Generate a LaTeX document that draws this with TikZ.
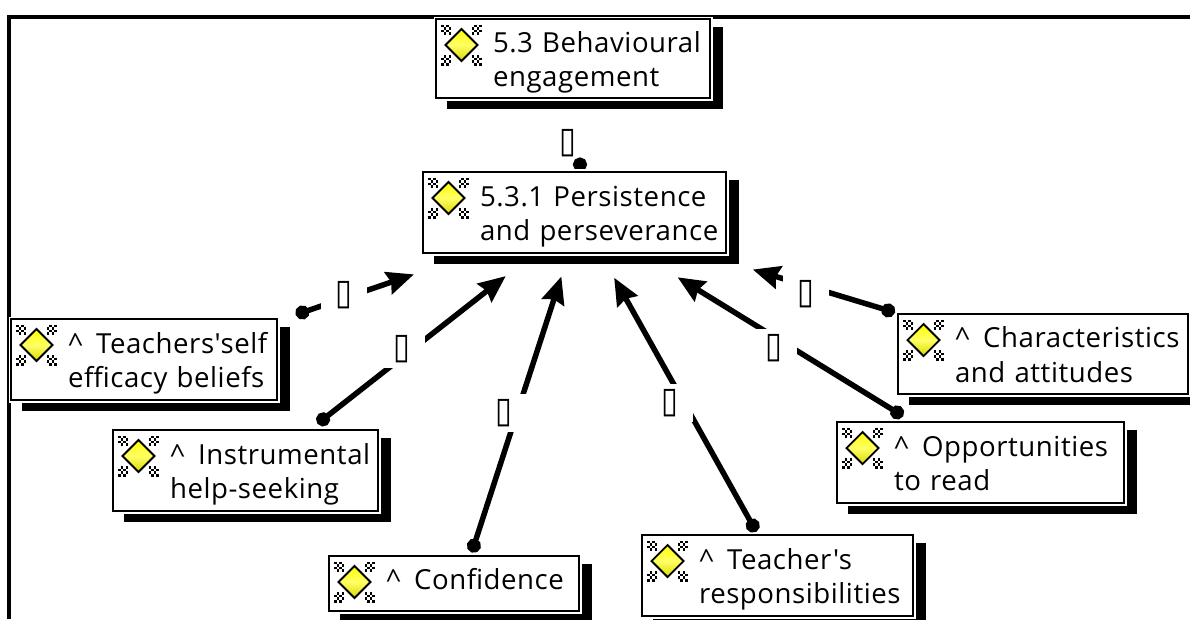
\documentclass[tikz,border=0pt]{standalone}
\usepackage{graphicx}
\usepackage{fontspec}
\setmainfont{Open Sans}[LetterSpace=2,Ligatures=TeXOff]
\newfontfamily\symfont{DejaVu Sans}
\usetikzlibrary{arrows.meta}
\tikzset{
  x=1pt,y=-1pt,
  boxnode/.style={draw=black,line width=2pt,fill=white,outer sep=0pt,inner sep=0pt,align=left,
    font=\fontsize{27.6}{34.5}\selectfont},
  conn/.style={line width=5.5pt,{Circle[length=14pt]}-{Stealth[length=27pt,width=23pt,inset=3pt]}},
  dotconn/.style={line width=5.5pt,{Circle[length=14pt]}-},
  tag/.style={fill=white,inner sep=0pt,minimum width=46pt,minimum height=38pt,font=\symfont\fontsize{36}{36}\selectfont},
}
\newcommand{\ind}{\hspace*{57pt}}
\newcommand{\car}{\^{}\ \hspace{4pt}}
\newcommand{\topst}[1]{\rule{0pt}{#1pt}}
\newcommand{\botst}[1]{\rule[-#1pt]{0pt}{#1pt}}
\newcommand{\tofu}{\scalebox{0.85}[1]{▯}}
% name, x1, y1, x2, y2, text
\newcommand{\cbox}[6]{%
  \fill[black] (#2+11,#3+8) rectangle (#4+13,#5+11);
  \fill[white] (#2-2,#3-2) rectangle (#4+3,#5+3);
  \node[boxnode,minimum width=#4-#2,minimum height=#5-#3,text width=#4-#2] (#1) at ({(#2+#4)/2},{(#3+#5)/2}) {#6};
  \begin{scope}[shift={(#2+25.5,#3+26)}]
    \foreach \a/\b in {-1/-1,1/-1,-1/1,1/1}{
      \begin{scope}[shift={(\a*14,\b*14)}]
        \foreach \i/\j in {-1/-1,1/-1,0/0,-1/1,1/1,\a*2/0,0/\b*2,\a*1/\b*1,\a*2/\b*2}{
          \fill[black] (\i*2.6-1.3,\j*2.6-1.3) rectangle ++(2.6,2.6);
        }
      \end{scope}
    }
    \shade[top color=yellow,bottom color=yellow!85!black,middle color=white!40!yellow,draw=black,line width=1.8pt]
      (0,-16) -- (16,0) -- (0,16) -- (-16,0) -- cycle;
  \end{scope}
}
\begin{document}
\begin{tikzpicture}
\useasboundingbox (0,0) rectangle (1190,619);
\clip (0,0) rectangle (1190,619);
\fill[white] (0,0) rectangle (1190,619);
\coordinate (frameTL) at (9,16.5);
\coordinate (frameTR) at (1190,16.5);
\coordinate (frameBL) at (9,619);
\draw[line width=4pt] (frameBL) -- (frameTL) -- (frameTR);

\cbox{beh}{436}{19}{710}{98}{\ind\topst{28.5}5.3 Behavioural\\\ind engagement\botst{7}}
\cbox{per}{423}{172}{726}{253}{\ind\topst{28.5}5.3.1 Persistence\\\ind and perseverance\botst{7}}
\cbox{tea}{11}{319}{277}{400}{\ind\topst{28.5}\car Teachers'self\\\ind efficacy beliefs\botst{7}}
\cbox{ins}{113}{430}{378}{511}{\ind\topst{28.5}\car Instrumental\\\ind help-seeking\botst{7}}
\cbox{con}{329}{556}{579}{611}{\ind\topst{21.5}\car Confidence\botst{10}}
\cbox{res}{642}{535}{913}{616}{\ind\topst{28.5}\car Teacher's\\\ind responsibilities\botst{7}}
\cbox{opp}{837}{422}{1124}{503}{\ind\topst{28.5}\car Opportunities\\\ind to read\botst{7}}
\cbox{cha}{898}{314}{1188}{394}{\ind\topst{28.5}\car Characteristics\\\ind and attitudes\botst{7}}

\coordinate (hub) at ([shift={(6,5)}]per.center);
\draw[conn,shorten <=154pt,shorten >=176pt] ([shift={(6,5)}]tea.center) -- (hub);
\draw[conn,shorten <=84pt,shorten >=95pt] ([shift={(6,5)}]ins.center) -- (hub);
\draw[conn,shorten <=38pt,shorten >=62pt] ([shift={(6,5)}]con.center) -- (hub);
\draw[conn,shorten <=56pt,shorten >=69pt] ([shift={(6,5)}]res.center) -- (hub);
\draw[conn,shorten <=98pt,shorten >=114pt] ([shift={(6,5)}]opp.center) -- (hub);
\draw[conn,shorten <=161pt,shorten >=180pt] ([shift={(6,5)}]cha.center) -- (hub);

\node[tag] (lbeh) at (568,143) {\tofu};
\node[tag] (ltea) at (344,295) {\tofu};
\node[tag] (lins) at (402,349) {\tofu};
\node[tag] (lcon) at (504,413) {\tofu};
\node[tag] (lres) at (670,403) {\tofu};
\node[tag] (lopp) at (774,348) {\tofu};
\node[tag] (lcha) at (806,294) {\tofu};

\begin{scope}
  \clip (540,100) rectangle (620,168);
  \draw[dotconn,shorten <=94pt] ([shift={(6,5)}]beh.center) -- (hub);
\end{scope}
\end{tikzpicture}
\end{document}
